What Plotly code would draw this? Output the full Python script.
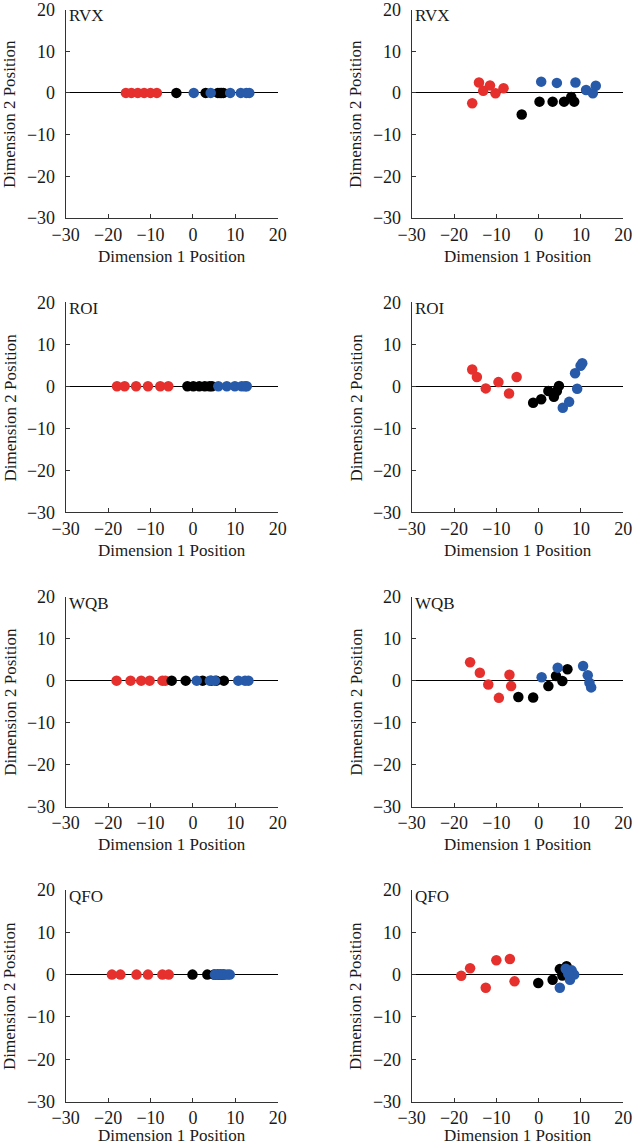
import plotly.graph_objects as go

# ---------------- data ----------------
PANEL_NAMES = ["RVX", "ROI", "WQB", "QFO"]

# 1-D solutions (Dimension 2 = 0)
RVX_1D_RED = [-15.8, -14.5, -13.0, -11.5, -10.0, -8.5]
RVX_1D_BLACK = [-3.9, 3.0, 5.9, 6.4, 6.8, 7.2]
RVX_1D_BLUE = [0.2, 4.2, 8.8, 11.3, 12.6, 13.3]

ROI_1D_RED = [-17.9, -16.1, -13.4, -10.6, -7.7, -5.8]
ROI_1D_BLACK = [-1.3, 0.1, 1.5, 2.8, 3.9, 4.5]
ROI_1D_BLUE = [6.0, 8.0, 9.9, 11.5, 12.3, 12.7]

WQB_1D_RED = [-18.0, -14.7, -12.2, -10.2, -7.2, -6.5]
WQB_1D_BLACK = [-5.0, -1.7, 2.3, 4.3, 5.5, 7.3]
WQB_1D_BLUE = [0.9, 4.0, 5.2, 10.7, 12.3, 13.1]

QFO_1D_RED = [-19.1, -17.1, -13.3, -10.6, -7.2, -5.7]
QFO_1D_BLACK = [-0.1, 3.4, 5.0, 5.8, 6.5, 7.2]
QFO_1D_BLUE = [5.2, 6.0, 6.8, 7.5, 8.2, 8.7]

# 2-D solutions
RVX_2D_RED_X = [-15.7, -14.1, -13.1, -11.5, -10.2, -8.3]
RVX_2D_RED_Y = [-2.5, 2.5, 0.5, 1.8, -0.1, 1.1]
RVX_2D_BLACK_X = [-4.0, 0.2, 3.3, 6.0, 7.7, 8.4]
RVX_2D_BLACK_Y = [-5.2, -2.1, -2.1, -2.1, -1.0, -2.1]
RVX_2D_BLUE_X = [0.6, 4.3, 8.7, 11.2, 12.8, 13.5]
RVX_2D_BLUE_Y = [2.7, 2.4, 2.5, 0.7, -0.1, 1.7]

ROI_2D_RED_X = [-15.7, -14.6, -12.5, -9.5, -7.0, -5.2]
ROI_2D_RED_Y = [4.0, 2.2, -0.5, 1.0, -1.7, 2.2]
ROI_2D_BLACK_X = [-1.3, 0.6, 2.3, 3.6, 4.3, 4.8]
ROI_2D_BLACK_Y = [-3.9, -3.1, -1.1, -2.5, -1.1, 0.1]
ROI_2D_BLUE_X = [5.7, 7.2, 8.6, 9.1, 9.9, 10.3]
ROI_2D_BLUE_Y = [-5.1, -3.7, 3.1, -0.6, 4.9, 5.5]

WQB_2D_RED_X = [-16.2, -13.9, -11.9, -9.4, -6.9, -6.5]
WQB_2D_RED_Y = [4.4, 1.9, -0.9, -4.1, 1.4, -1.3]
WQB_2D_BLACK_X = [-4.8, -1.3, 2.3, 4.1, 5.6, 6.8]
WQB_2D_BLACK_Y = [-3.9, -4.0, -1.3, 1.1, -0.1, 2.7]
WQB_2D_BLUE_X = [0.7, 4.5, 10.5, 11.6, 12.0, 12.4]
WQB_2D_BLUE_Y = [0.8, 3.1, 3.5, 1.3, -0.5, -1.6]

QFO_2D_RED_X = [-18.3, -16.2, -12.5, -10.0, -6.8, -5.7]
QFO_2D_RED_Y = [-0.3, 1.5, -3.1, 3.4, 3.7, -1.6]
QFO_2D_BLACK_X = [-0.1, 3.3, 5.0, 6.6, 5.6, 6.8]
QFO_2D_BLACK_Y = [-2.0, -1.2, 1.3, 2.0, -0.2, 0.6]
QFO_2D_BLUE_X = [5.0, 6.4, 7.4, 7.8, 8.4, 7.0]
QFO_2D_BLUE_Y = [-3.1, 1.4, -1.2, 1.0, 0.0, 0.2]

X_TICKS = [-30, -20, -10, 0, 10, 20]
Y_TICKS = [-30, -20, -10, 0, 10, 20]
X_TITLE = "Dimension 1 Position"
Y_TITLE = "Dimension 2 Position"

RED = "rgb(230,48,46)"
BLACK = "rgb(0,0,0)"
BLUE = "rgb(40,90,170)"

panels_1d = [
    (RVX_1D_RED, RVX_1D_BLACK, RVX_1D_BLUE),
    (ROI_1D_RED, ROI_1D_BLACK, ROI_1D_BLUE),
    (WQB_1D_RED, WQB_1D_BLACK, WQB_1D_BLUE),
    (QFO_1D_RED, QFO_1D_BLACK, QFO_1D_BLUE),
]
panels_2d = [
    ((RVX_2D_RED_X, RVX_2D_RED_Y), (RVX_2D_BLACK_X, RVX_2D_BLACK_Y), (RVX_2D_BLUE_X, RVX_2D_BLUE_Y)),
    ((ROI_2D_RED_X, ROI_2D_RED_Y), (ROI_2D_BLACK_X, ROI_2D_BLACK_Y), (ROI_2D_BLUE_X, ROI_2D_BLUE_Y)),
    ((WQB_2D_RED_X, WQB_2D_RED_Y), (WQB_2D_BLACK_X, WQB_2D_BLACK_Y), (WQB_2D_BLUE_X, WQB_2D_BLUE_Y)),
    ((QFO_2D_RED_X, QFO_2D_RED_Y), (QFO_2D_BLACK_X, QFO_2D_BLACK_Y), (QFO_2D_BLUE_X, QFO_2D_BLUE_Y)),
]

# ---------------- layout ----------------
W, H = 633, 1147
col_px = [(65.7, 277.7), (411.7, 623.3)]
row_px = [(9.5, 218.0), (302.3, 512.3), (596.7, 806.6), (890.0, 1101.5)]

FONT = "Liberation Serif"
TXT = "#1a1a1a"
fig = go.Figure()
layout = dict(
    width=W, height=H, margin=dict(l=0, r=0, t=0, b=0, autoexpand=False),
    paper_bgcolor="white", plot_bgcolor="white", showlegend=False,
    font=dict(family=FONT, size=17, color=TXT),
)
annotations = []

idx = 0
for r in range(4):
    for c in range(2):
        idx += 1
        xname = "x" if idx == 1 else f"x{idx}"
        yname = "y" if idx == 1 else f"y{idx}"
        xkey = "xaxis" if idx == 1 else f"xaxis{idx}"
        ykey = "yaxis" if idx == 1 else f"yaxis{idx}"
        x0, x1 = col_px[c]
        t, b = row_px[r]
        common = dict(
            showgrid=False, showline=True, linecolor="#333", linewidth=1,
            ticks="inside", ticklen=4, tickcolor="#333", mirror=False,
            automargin=False, fixedrange=True, ticklabeloverflow="allow",
            tickfont=dict(family=FONT, size=18, color=TXT),
        )
        layout[xkey] = dict(
            domain=[x0 / W, x1 / W], anchor=yname, range=[-30, 20],
            tickvals=X_TICKS, zeroline=False, ticklabelstandoff=0,
            **common,
        )
        layout[ykey] = dict(
            domain=[1 - b / H, 1 - t / H], anchor=xname, range=[-30, 20],
            tickvals=Y_TICKS, zeroline=True, zerolinecolor="black", zerolinewidth=1,
            ticklabelstandoff=6,
            **common,
        )
        if c == 0:
            groups = [(xs, [0] * len(xs)) for xs in panels_1d[r]]
        else:
            groups = list(panels_2d[r])
        for (gx, gy), col in zip(groups, [RED, BLACK, BLUE]):
            fig.add_trace(go.Scatter(
                x=gx, y=gy, mode="markers", xaxis=xname, yaxis=yname,
                marker=dict(size=10.5, color=col, line=dict(width=0)),
                hoverinfo="skip",
            ))
        # panel label
        annotations.append(dict(
            text=PANEL_NAMES[r], xref=f"{xname} domain", yref=f"{yname} domain",
            x=0.005, y=1.0, xanchor="left", yanchor="top", yshift=5, showarrow=False,
            font=dict(family=FONT, size=17, color=TXT),
        ))
        # x-axis title
        if r < 3:
            ty, tanchor = 1 - (b + 38) / H, "middle"
        else:
            ty, tanchor = 0.0, "bottom"
        annotations.append(dict(
            text=X_TITLE, xref="paper", yref="paper",
            x=(x0 + x1) / 2 / W, y=ty, xanchor="center", yanchor=tanchor,
            showarrow=False, font=dict(family=FONT, size=17, color=TXT),
        ))
        # y-axis title
        annotations.append(dict(
            text=Y_TITLE, xref="paper", yref="paper", textangle=-90,
            x=(x0 - 55.5) / W, y=1 - (t + b) / 2 / H, xanchor="center", yanchor="middle",
            showarrow=False, font=dict(family=FONT, size=17, color=TXT),
        ))

layout["annotations"] = annotations
fig.update_layout(**layout)
fig.write_html(
    "out.html",
    config={"displayModeBar": False},
    post_script="document.body.style.margin='0';document.body.style.overflow='hidden';",
)
